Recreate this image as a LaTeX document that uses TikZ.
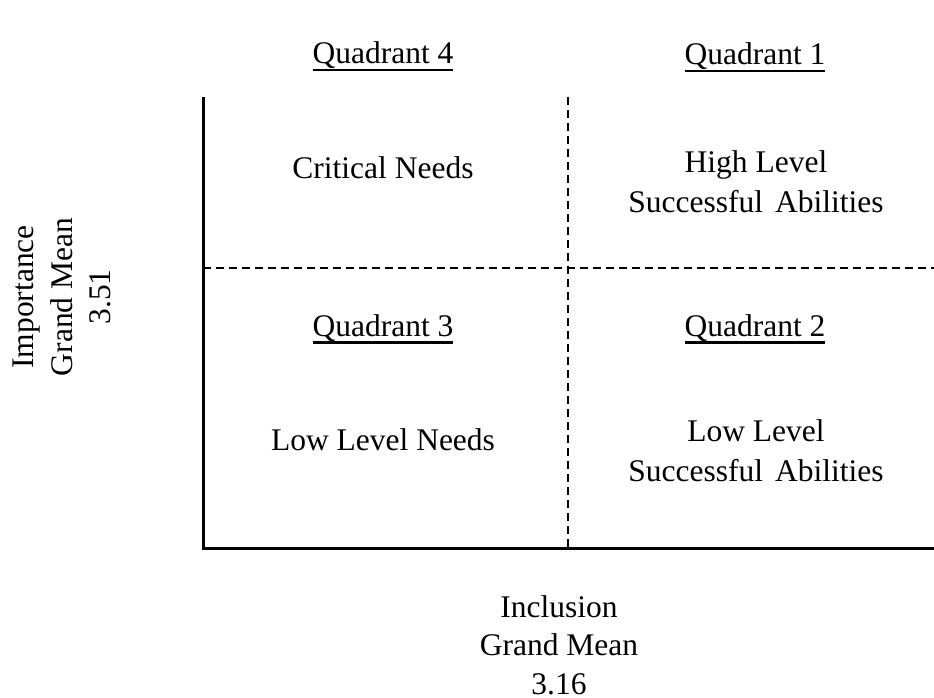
\documentclass[tikz,border=0pt]{standalone}
\usepackage{fontspec}
\setmainfont{Liberation Serif}
\usetikzlibrary{positioning}

\newcommand{\quline}[1]{\setbox0\hbox{#1}\rlap{\rule[-7.5pt]{\wd0}{2.5pt}}\box0}

\tikzset{
  quadtext/.style={inner sep=0pt, align=center, font=\fontsize{31.5}{40}\selectfont},
  axislabel/.style={quadtext, font=\fontsize{31.5}{38.7}\selectfont},
  axisline/.style={line width=3pt},
  splitline/.style={line width=1.8pt, dash pattern=on 8pt off 5pt},
}

\begin{document}
\begin{tikzpicture}[x=1pt,y=-1pt]
\useasboundingbox (0,0) rectangle (934,698);
% Axes and splits
\coordinate (top) at (203,97);
\coordinate (origin) at (203,548);
\coordinate (right) at (934,548);
\coordinate (midtop) at (568,97);
\coordinate (midbot) at (568,548);
\coordinate (midleft) at (203,268);
\coordinate (midright) at (934,268);
\draw[axisline] (top) -- (origin) -- (right);
\draw[splitline] (midtop) -- (midbot);
\draw[splitline] (midleft) -- (midright);
% Quadrants
\node[quadtext, anchor=base] (q4) at (383,64) {\quline{Quadrant 4}};
\node[quadtext, anchor=base] (q1) at (755,65) {\quline{Quadrant 1}};
\node[quadtext, anchor=base] (q3) at (383,336) {\quline{Quadrant 3}};
\node[quadtext, anchor=base] (q2) at (755,336) {\quline{Quadrant 2}};
\node[quadtext, anchor=base] (crit) at (383,178) {Critical Needs};
\node[quadtext] (high) at (756,182) {High Level\\Successful\hspace{12pt}Abilities};
\node[quadtext, anchor=base] (lowneed) at (383,450) {Low Level Needs};
\node[quadtext] (lowabil) at (756,451) {Low Level\\Successful\hspace{12pt}Abilities};
% Axis labels
\node[axislabel, rotate=90] (imp) at (62,297) {Importance\\Grand Mean\\3.51};
\node[axislabel] (incl) at (559,645) {Inclusion\\Grand Mean\\3.16};
\end{tikzpicture}
\end{document}
